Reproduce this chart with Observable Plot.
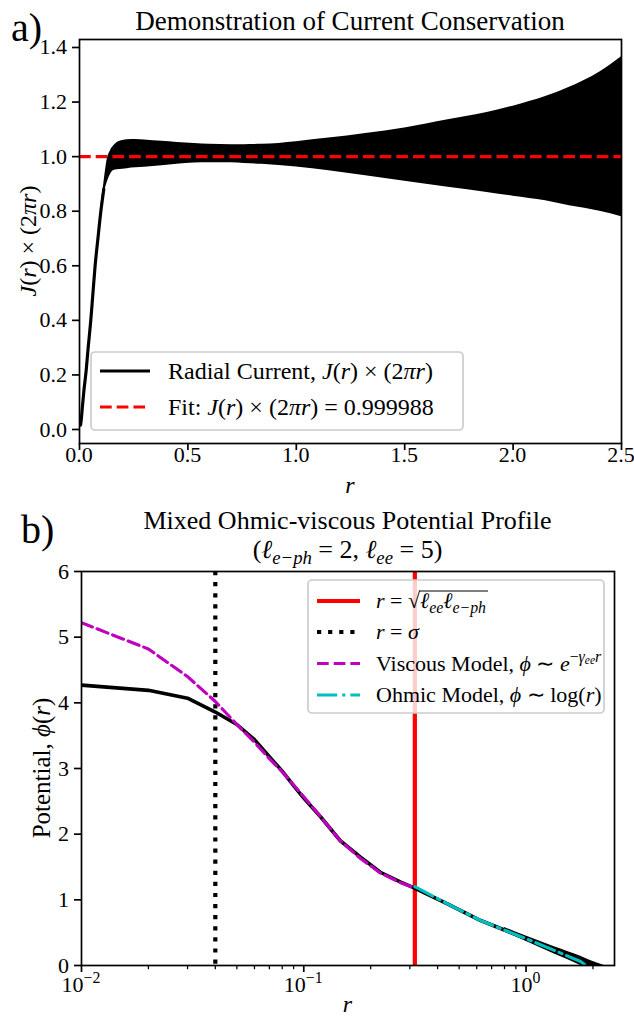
<!DOCTYPE html>
<html><head><meta charset="utf-8">
<script src="https://cdn.jsdelivr.net/npm/d3@7"></script>
<script src="https://cdn.jsdelivr.net/npm/@observablehq/plot@0.6"></script>
<style>
body{margin:0;background:#fff;}
#wrap{position:relative;width:634px;height:1017px;overflow:hidden;background:#fff;}
#wrap svg{overflow:visible;display:block;}
</style></head><body><div id="wrap"></div>
<script>
const FONT = "Liberation Serif, Times New Roman, Times, serif";

// ---------- Panel a data ----------
const xTicksA = [0, 0.5, 1.0, 1.5, 2.0, 2.5];
const yTicksA = [0, 0.2, 0.4, 0.6, 0.8, 1.0, 1.2, 1.4];
const riseR = [0.005, 0.008, 0.013, 0.02, 0.03, 0.04, 0.052, 0.062, 0.072, 0.085, 0.097, 0.105, 0.112];
const riseJ = [0.016, 0.035, 0.08, 0.14, 0.21, 0.3, 0.4, 0.5, 0.6, 0.7, 0.79, 0.84, 0.88];
const bandR  = [0.097, 0.105, 0.112, 0.12, 0.128, 0.143, 0.158, 0.174, 0.2, 0.22, 0.26, 0.3, 0.38, 0.45, 0.53, 0.6, 0.7, 0.76, 0.84, 1.0, 1.15, 1.32, 1.5, 1.7, 1.88, 2.0, 2.15, 2.26, 2.4, 2.5];
const bandHi = [0.80, 0.86, 0.90, 0.95, 0.99, 1.022, 1.04, 1.052, 1.059, 1.062, 1.063, 1.061, 1.056, 1.052, 1.048, 1.045, 1.044, 1.044, 1.045, 1.055, 1.068, 1.085, 1.105, 1.135, 1.162, 1.185, 1.22, 1.254, 1.31, 1.366];
const bandLo = [0.79, 0.82, 0.86, 0.885, 0.906, 0.935, 0.949, 0.952, 0.954, 0.956, 0.959, 0.961, 0.967, 0.972, 0.977, 0.978, 0.978, 0.975, 0.972, 0.962, 0.948, 0.93, 0.91, 0.888, 0.869, 0.855, 0.838, 0.82, 0.80, 0.78];
const fitValue = 0.999988;

// ---------- Panel b data ----------
const majorB = [0.01, 0.1, 1];
const majorExp = ["\u22122", "\u22121", "0"];
const minorB = [0.02, 0.03, 0.04, 0.05, 0.06, 0.07, 0.08, 0.09, 0.2, 0.3, 0.4, 0.5, 0.6, 0.7, 0.8, 0.9, 2];
const yTicksB = [0, 1, 2, 3, 4, 5, 6];
const potR   = [0.01, 0.02, 0.03, 0.04, 0.05, 0.06, 0.07, 0.08, 0.09, 0.10, 0.12, 0.146, 0.18, 0.221, 0.273, 0.31, 0.443, 0.625, 0.98, 1.34, 1.76, 2.0, 2.2];
const potPhi = [4.27, 4.19, 4.07, 3.86, 3.67, 3.44, 3.18, 2.96, 2.74, 2.55, 2.25, 1.90, 1.65, 1.42, 1.27, 1.19, 0.94, 0.685, 0.42, 0.23, 0.07, 0.0, -0.07];
const potBandR  = [0.8, 0.98, 1.34, 1.76, 2.0, 2.25];
const potBandLo = [0.52, 0.38, 0.175, 0.0, -0.1, -0.2];
const potBandHi = [0.58, 0.46, 0.285, 0.14, 0.06, 0.0];
const viscR   = [0.01, 0.02, 0.03, 0.04, 0.05, 0.06, 0.07, 0.08, 0.09, 0.10, 0.12, 0.146, 0.18, 0.221, 0.273, 0.316];
const viscPhi = [5.22, 4.82, 4.40, 4.02, 3.67, 3.40, 3.15, 2.95, 2.75, 2.57, 2.25, 1.90, 1.63, 1.41, 1.26, 1.18];
const ohmR   = [0.316, 0.443, 0.625, 0.98, 1.34, 1.76, 1.86];
const ohmPhi = [1.2, 0.94, 0.685, 0.42, 0.23, 0.06, 0.0];
const sigma = 0.04;
const rCross = 0.316;

const riseA = riseR.map((r, i) => ({r, j: riseJ[i]}));
const bandA = bandR.map((r, i) => ({r, lo: bandLo[i], hi: bandHi[i]}));
const potB = potR.map((r, i) => ({r, v: potPhi[i]}));
const potBand = potBandR.map((r, i) => ({r, lo: potBandLo[i], hi: potBandHi[i]}));
const viscB = viscR.map((r, i) => ({r, v: viscPhi[i]}));
const ohmB = ohmR.map((r, i) => ({r, v: ohmPhi[i]}));

const LW = 3.15;
const wrap = document.getElementById("wrap");

// ---------- Panel a ----------
const plotA = Plot.plot({
  width: 634, height: 500,
  marginTop: 39, marginBottom: 57, marginLeft: 79, marginRight: 13,
  style: {fontFamily: FONT, fontSize: "21px", background: "white", color: "black", overflow: "visible"},
  x: {domain: [0, 2.5], label: null},
  y: {domain: [-0.0513, 1.4293], label: null},
  marks: [
    Plot.areaY(bandA, {x: "r", y1: "lo", y2: "hi", fill: "black", curve: "monotone-x"}),
    Plot.line(riseA, {x: "r", y: "j", stroke: "black", strokeWidth: LW, curve: "monotone-x"}),
    Plot.ruleY([fitValue], {stroke: "#ff0000", strokeWidth: LW, strokeDasharray: "11.7,5"}),
    Plot.frame({stroke: "black", strokeWidth: 1.7}),
    Plot.axisX({ticks: xTicksA, tickSize: 7, strokeWidth: 1.7, tickFormat: () => "", label: null}),
    Plot.axisY({ticks: yTicksA, tickSize: 7, strokeWidth: 1.7, tickFormat: () => "", label: null})
  ]
});
wrap.appendChild(plotA);

// ---------- Panel b ----------
const plotB = Plot.plot({
  width: 634, height: 517,
  marginTop: 71, marginBottom: 52, marginLeft: 81, marginRight: 20,
  style: {fontFamily: FONT, fontSize: "21px", background: "white", color: "black", overflow: "visible"},
  x: {type: "log", domain: [0.01, 2.5], label: null},
  y: {domain: [0, 6], label: null},
  marks: [
    Plot.ruleX([sigma], {stroke: "black", strokeWidth: 4.2, strokeDasharray: "4.2,6.9"}),
    Plot.ruleX([rCross], {stroke: "#ff0000", strokeWidth: 4.2}),
    Plot.areaY(potBand, {x: "r", y1: "lo", y2: "hi", fill: "black", curve: "monotone-x", clip: true}),
    Plot.line(potB, {x: "r", y: "v", stroke: "black", strokeWidth: 3.6, clip: true}),
    Plot.line(viscB, {x: "r", y: "v", stroke: "#bf00bf", strokeWidth: LW, strokeDasharray: "11.7,5", clip: true}),
    Plot.line(ohmB, {x: "r", y: "v", stroke: "#00bfbf", strokeWidth: LW, strokeDasharray: "20.2,5,3.15,5", clip: true}),
    Plot.frame({stroke: "black", strokeWidth: 1.7}),
    Plot.axisX({ticks: majorB, tickSize: 7, strokeWidth: 1.7, tickFormat: () => "", label: null}),
    Plot.axisX({ticks: minorB, tickSize: 4.2, strokeWidth: 1.26, tickFormat: () => "", label: null}),
    Plot.axisY({ticks: yTicksB, tickSize: 7, strokeWidth: 1.7, tickFormat: () => "", label: null})
  ]
});
wrap.appendChild(plotB);

// ---------- text helpers ----------
function rich(parent, x, y, parts, opts) {
  const size = opts.size;
  const t = parent.append("text").attr("x", x).attr("y", y)
    .style("font-family", FONT).style("font-size", size + "px")
    .attr("text-anchor", opts.anchor || "start").attr("fill", "black");
  if (opts.rotate) t.attr("transform", `rotate(-90 ${x} ${y})`);
  let cur = 0;
  for (const p of parts) {
    const s = typeof p === "string" ? p : p[0];
    const st = typeof p === "string" ? {} : (p[1] || {});
    let target = 0, fs = size;
    if (st.sub) { target = size * 0.24; fs = size * 0.72; }
    if (st.sup) { target = -size * 0.40; fs = size * 0.72; }
    if (st.supsub) { target = -size * 0.28; fs = size * 0.52; }
    const ts = t.append("tspan").text(s).attr("dy", target - cur).style("font-size", fs + "px");
    cur = target;
    if (st.i) ts.style("font-style", "italic");
  }
  return t;
}
function plain(parent, x, y, s, size, anchor) {
  return parent.append("text").attr("x", x).attr("y", y).attr("text-anchor", anchor)
    .style("font-family", FONT).style("font-size", size + "px").attr("fill", "black").text(s);
}

// ---------- Panel a annotations ----------
const sa = d3.select(plotA);
const xA = plotA.scale("x"), yA = plotA.scale("y");
xTicksA.forEach(v => plain(sa, xA.apply(v), 462, v.toFixed(1), 22, "middle"));
yTicksA.forEach(v => plain(sa, 67, yA.apply(v) + 7.5, v.toFixed(1), 22, "end"));
plain(sa, 11, 41, "a)", 40, "start");
plain(sa, 350, 30, "Demonstration of Current Conservation", 27, "middle");
rich(sa, 36, 241, [["J", {i: 1}], "(", ["r", {i: 1}], ") \u00d7 (2", ["\u03c0", {i: 1}], ["r", {i: 1}], ")"], {size: 24, anchor: "middle", rotate: true});
rich(sa, 350, 493, [["r", {i: 1}]], {size: 24, anchor: "middle"});
// legend a
sa.append("rect").attr("x", 91).attr("y", 352).attr("width", 372).attr("height", 78).attr("rx", 4)
  .attr("fill", "white").attr("fill-opacity", 0.8).attr("stroke", "#cccccc").attr("stroke-width", 1.7);
sa.append("line").attr("x1", 100).attr("x2", 150).attr("y1", 371).attr("y2", 371).attr("stroke", "black").attr("stroke-width", LW);
sa.append("line").attr("x1", 100).attr("x2", 150).attr("y1", 407).attr("y2", 407).attr("stroke", "#ff0000").attr("stroke-width", LW).attr("stroke-dasharray", "11.7,5");
rich(sa, 168, 379, ["Radial Current, ", ["J", {i: 1}], "(", ["r", {i: 1}], ") \u00d7 (2", ["\u03c0", {i: 1}], ["r", {i: 1}], ")"], {size: 24});
rich(sa, 168, 415, ["Fit: ", ["J", {i: 1}], "(", ["r", {i: 1}], ") \u00d7 (2", ["\u03c0", {i: 1}], ["r", {i: 1}], ") = 0.999988"], {size: 24});

// ---------- Panel b annotations ----------
const sb = d3.select(plotB);
const xB = plotB.scale("x"), yB = plotB.scale("y");
yTicksB.forEach(v => plain(sb, 69, yB.apply(v) + 7.5, String(v), 22, "end"));
majorB.forEach((v, i) => {
  rich(sb, xB.apply(v), 492, ["10", [majorExp[i], {sup: 1}]], {size: 22, anchor: "middle"});
});
plain(sb, 21, 43, "b)", 40, "start");
plain(sb, 347.5, 29, "Mixed Ohmic-viscous Potential Profile", 26, "middle");
rich(sb, 347.5, 57.5, ["(", ["\u2113", {i: 1}], ["e\u2212ph", {i: 1, sub: 1}], " = 2, ", ["\u2113", {i: 1}], ["ee", {i: 1, sub: 1}], " = 5)"], {size: 26, anchor: "middle"});
rich(sb, 50, 268, ["Potential, ", ["\u03d5", {i: 1}], "(", ["r", {i: 1}], ")"], {size: 25, anchor: "middle", rotate: true});
rich(sb, 347.5, 512, [["r", {i: 1}]], {size: 24, anchor: "middle"});
// legend b
sb.append("rect").attr("x", 308).attr("y", 80).attr("width", 296).attr("height", 133).attr("rx", 4)
  .attr("fill", "white").attr("fill-opacity", 0.8).attr("stroke", "#cccccc").attr("stroke-width", 1.7);
const legY = [101, 132, 163.5, 195];
sb.append("line").attr("x1", 317).attr("x2", 360).attr("y1", legY[0]).attr("y2", legY[0]).attr("stroke", "#ff0000").attr("stroke-width", 4.2);
sb.append("line").attr("x1", 317).attr("x2", 360).attr("y1", legY[1]).attr("y2", legY[1]).attr("stroke", "black").attr("stroke-width", 4.2).attr("stroke-dasharray", "4.2,6.9");
sb.append("line").attr("x1", 317).attr("x2", 360).attr("y1", legY[2]).attr("y2", legY[2]).attr("stroke", "#bf00bf").attr("stroke-width", LW).attr("stroke-dasharray", "11.7,5");
sb.append("line").attr("x1", 317).attr("x2", 360).attr("y1", legY[3]).attr("y2", legY[3]).attr("stroke", "#00bfbf").attr("stroke-width", LW).attr("stroke-dasharray", "20.2,5,3.15,5");
const LS = 22;
const t1 = rich(sb, 376, legY[0] + 7, [["r", {i: 1}], " = \u221a"], {size: LS});
const w1 = t1.node().getComputedTextLength();
const t1b = rich(sb, 376 + w1, legY[0] + 7, [["\u2113", {i: 1}], ["ee", {i: 1, sub: 1}], ["\u2113", {i: 1}], ["e\u2212ph", {i: 1, sub: 1}]], {size: LS});
const w1b = t1b.node().getComputedTextLength();
sb.append("line").attr("x1", 376 + w1 - 1).attr("x2", 376 + w1 + w1b + 2).attr("y1", legY[0] - 10).attr("y2", legY[0] - 10).attr("stroke", "black").attr("stroke-width", 1);
rich(sb, 376, legY[1] + 7, [["r", {i: 1}], " = ", ["\u03c3", {i: 1}]], {size: LS});
rich(sb, 376, legY[2] + 7, ["Viscous Model, ", ["\u03d5", {i: 1}], " \u223c ", ["e", {i: 1}], ["\u2212", {sup: 1}], ["\u03b3", {i: 1, sup: 1}], ["ee", {i: 1, supsub: 1}], ["r", {i: 1, sup: 1}]], {size: LS});
rich(sb, 376, legY[3] + 7, ["Ohmic Model, ", ["\u03d5", {i: 1}], " \u223c log(", ["r", {i: 1}], ")"], {size: LS});
</script>
</body></html>
